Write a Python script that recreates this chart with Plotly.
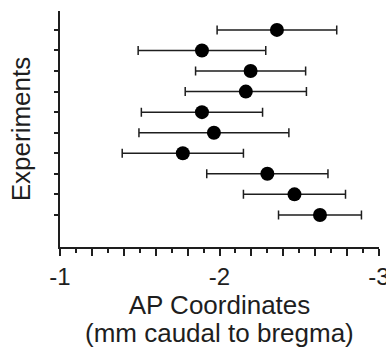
import plotly.graph_objects as go

# Experiments numbered bottom (1) to top (10)
experiments = [1, 2, 3, 4, 5, 6, 7, 8, 9, 10]
ap_mean = [-2.63, -2.47, -2.30, -1.77, -1.965, -1.89, -2.165, -2.195, -1.89, -2.36]
ap_err = [0.26, 0.32, 0.38, 0.38, 0.47, 0.38, 0.38, 0.345, 0.40, 0.375]

x_tickvals = [-1.0, -1.2, -1.4, -1.6, -1.8, -2.0, -2.2, -2.4, -2.6, -2.8, -3.0]
x_ticktext = ["-1", "", "", "", "", "-2", "", "", "", "", "-3"]

FONT = "Arial, Liberation Sans, sans-serif"
INK = "#1e1e1e"

fig = go.Figure()
fig.add_trace(go.Scatter(
    x=ap_mean, y=experiments, mode="markers",
    marker=dict(size=14, color="black", line=dict(width=0)),
    error_x=dict(type="data", array=ap_err, symmetric=True,
                 color=INK, thickness=1.5, width=4.5),
    showlegend=False,
))

fig.update_layout(
    width=386, height=348,
    margin=dict(l=60, r=7, t=11, b=101),
    paper_bgcolor="white", plot_bgcolor="white",
    font=dict(family=FONT, color=INK, size=24),
    xaxis=dict(
        range=[-1, -3], tickvals=x_tickvals, ticktext=x_ticktext,
        ticks="outside", ticklen=7, tickwidth=1.5, tickcolor=INK,
        minor=dict(dtick=0.1, ticks="outside", ticklen=4, tickwidth=1.5, tickcolor=INK),
        showline=True, linecolor=INK, linewidth=2,
        showgrid=False, zeroline=False, automargin=False,
        tickfont=dict(size=24), ticklabeloverflow="allow",
        title=dict(text="AP Coordinates", font=dict(size=26), standoff=5),
    ),
    yaxis=dict(
        range=[-0.56, 10.92], tickvals=experiments, showticklabels=False,
        ticks="outside", ticklen=4, tickwidth=1.5, tickcolor=INK,
        showline=True, linecolor=INK, linewidth=2,
        showgrid=False, zeroline=False, automargin=False,
        title=dict(text="Experiments", font=dict(size=26), standoff=16),
    ),
    annotations=[dict(
        text="(mm caudal to bregma)", xref="paper", yref="paper",
        x=0.5, y=0, yshift=-86, xanchor="center", yanchor="middle",
        showarrow=False, font=dict(size=26, family=FONT, color=INK),
    )],
)

fig.write_html("out.html")
